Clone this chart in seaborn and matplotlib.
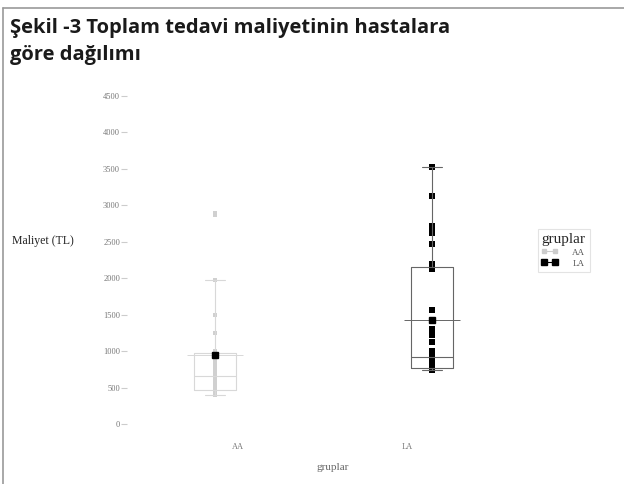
import numpy as np
import pandas as pd
import matplotlib
matplotlib.use("Agg")
import matplotlib.pyplot as plt
import seaborn as sns
from matplotlib.lines import Line2D
from matplotlib.transforms import ScaledTranslation

# values (cost in TL)
aa_cost = [400, 410, 420, 430, 440, 450, 460, 470, 480, 490,
           510, 540, 580, 620, 660, 700, 750, 800, 850, 900,
           950, 980, 1000, 1250, 1500, 1970, 2870, 2880, 2890]
la_cost = [740, 750, 755, 760, 765, 770, 770, 775, 780, 800,
           850, 880, 910, 920, 930, 1000, 1130, 1220, 1300, 1570,
           2130, 2200, 2470, 2620, 2680, 2720, 3130, 3520]
groups = ["AA", "LA"]
y_ticks = list(range(0, 5000, 500))

title = "Şekil -3 Toplam tedavi maliyetinin hastalara\ngöre dağılımı"

df = pd.DataFrame({
    "gruplar": ["AA"] * len(aa_cost) + ["LA"] * len(la_cost),
    "maliyet": aa_cost + la_cost,
})

sns.set_style("white")
plt.rcParams["font.family"] = ["Liberation Serif", "DejaVu Serif"]

W, H = 624, 484
fig = plt.figure(figsize=(W / 100, H / 100), dpi=100)

# axes placed in pixels
left, right, bottom, top = 127, 510, 424, 96
ax = fig.add_axes([left / W, 1 - bottom / H, (right - left) / W, (bottom - top) / H])

box_pal = {"AA": "#d8d8d8", "LA": "#666666"}
pt_pal = {"AA": "#d0d0d0", "LA": "#000000"}

sns.stripplot(data=df[df.gruplar == "AA"], x="gruplar", y="maliyet", color=pt_pal["AA"],
              marker="s", size=3, jitter=False, ax=ax, order=groups, zorder=2)
sns.stripplot(data=df[df.gruplar == "LA"], x="gruplar", y="maliyet", color=pt_pal["LA"],
              marker="s", size=4.5, jitter=False, ax=ax, order=groups, zorder=2)
sns.boxplot(data=df, x="gruplar", y="maliyet", hue="gruplar", palette=box_pal,
            fill=False, width=0.19, whis=2.0, showfliers=False, linewidth=0.8,
            legend=False, ax=ax, showmeans=True, order=groups,
            meanprops=dict(marker="s", markerfacecolor="black",
                           markeredgecolor="black", markersize=5, zorder=5))

# wider line at each group mean
for i, vals in enumerate([aa_cost, la_cost]):
    ax.hlines(np.mean(vals), i - 0.13, i + 0.13, color=box_pal[groups[i]], lw=0.7)

ax.set_xlim(-0.406, 1.359)
ax.set_ylim(0, 4500)
ax.set_yticks(y_ticks)
ax.set_yticklabels([str(v) for v in y_ticks])
for s in ax.spines.values():
    s.set_visible(False)
ax.tick_params(axis="y", left=True, length=4, width=0.8, color="#cccccc",
               labelsize=6, labelcolor="#777777", pad=1)
ax.tick_params(axis="x", bottom=False, labelsize=6, labelcolor="#777777", pad=10)

# tick labels sit a bit off the group centres in the original
for lab, dx in zip(ax.get_xticklabels(), [23, -25]):
    lab.set_transform(lab.get_transform() + ScaledTranslation(dx / 100, 0, fig.dpi_scale_trans))

ax.set_ylabel("Maliyet (TL)", rotation=0, fontsize=8.5, color="#222222",
              ha="left", va="center")
ax.yaxis.set_label_coords(12 / W, 1 - 241 / H, transform=fig.transFigure)
ax.set_xlabel("gruplar", fontsize=8, color="#666666")
ax.xaxis.set_label_coords(333 / W, 1 - 463 / H, transform=fig.transFigure)

handles = [Line2D([], [], color="#cccccc", marker="s", markersize=2.5, lw=0.8),
           Line2D([], [], color="black", marker="s", markersize=4.5, lw=0.8)]
leg = fig.legend(handles, groups, title="gruplar", loc="upper left",
                 bbox_to_anchor=(533 / W, 1 - 224 / H), numpoints=2,
                 handlelength=1.8, handletextpad=1.6, fontsize=6.5, title_fontsize=11,
                 frameon=True, fancybox=False, edgecolor="#dddddd",
                 borderpad=0.45, labelspacing=0.3)
leg.get_frame().set_linewidth(0.8)
for t in leg.get_texts():
    t.set_color("#555555")
leg._legend_box.align = "left"

fig.text(10 / W, 1 - 18 / H, title, fontsize=14.5, fontweight="bold",
         family="Open Sans", color="#1a1a1a", va="top", ha="left",
         linespacing=1.45)

# frame round the figure (left and top edges)
fig.add_artist(Line2D([3 / W, 3 / W], [0, 1 - 8 / H], color="#999999", lw=1.2,
                      transform=fig.transFigure))
fig.add_artist(Line2D([3 / W, 1], [1 - 8 / H, 1 - 8 / H], color="#999999", lw=1.2,
                      transform=fig.transFigure))

fig.savefig("out.png", dpi=100)
